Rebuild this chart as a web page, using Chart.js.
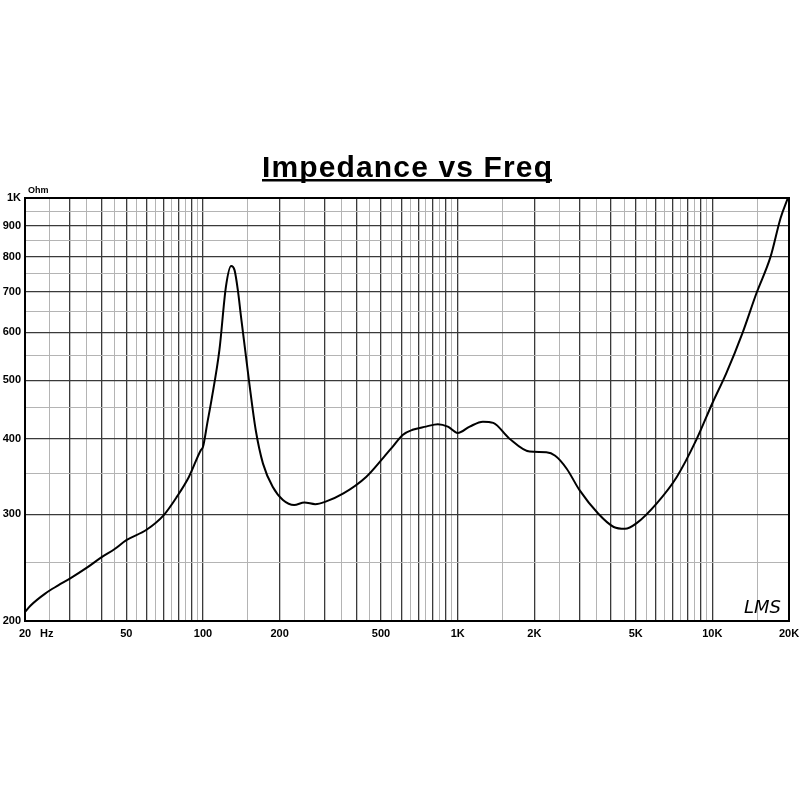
<!DOCTYPE html>
<html>
<head>
<meta charset="utf-8">
<title>Impedance vs Freq</title>
<script src="https://cdn.jsdelivr.net/npm/chart.js@4.4.0/dist/chart.umd.min.js"></script>
<style>
  html, body { margin: 0; padding: 0; background: #fff; }
  #wrap { width: 800px; height: 800px; }
</style>
</head>
<body>
<div id="wrap"><canvas id="chart" width="800" height="800"></canvas></div>
<script>
// frequency (Hz) and impedance (Ohm)
const freqs = [20, 21, 24, 27, 30, 35, 40, 45, 50, 60, 70, 79, 88, 98, 100, 104, 108, 116, 123, 129, 133, 137, 141,
  152, 161, 172, 188, 206, 228, 250, 276, 303, 356, 437, 507, 555, 608, 665, 751, 836, 915, 1000, 1115, 1256,
  1380, 1590, 1917, 2230, 2416, 2680, 3010, 3560, 4100, 4540, 5030, 6050, 7250, 8640, 10000, 11340, 13130,
  14900, 16930, 18540, 19800];
const ohms = [207, 212, 222, 229, 235, 245, 255, 263, 272, 283, 299, 321, 346, 383, 388, 425, 464, 561, 713, 772, 760, 705, 637,
  494, 414, 364, 333, 317, 311, 314, 312, 315, 325, 346, 371, 388, 406, 414, 419, 423, 419, 409, 419, 427,
  425, 401, 381, 380, 375, 357, 329, 301, 286, 284, 290, 313, 346, 398, 458, 513, 598,
  696, 800, 927, 1000];

// grid lines and tick labels
const xGrid = [];
for (let v = 20; v <= 100; v += 5) xGrid.push(v);
for (let v = 150; v <= 1000; v += 50) xGrid.push(v);
for (let v = 1500; v <= 10000; v += 500) xGrid.push(v);
xGrid.push(15000, 20000);
const yGrid = [];
for (let v = 200; v <= 1000; v += 50) yGrid.push(v);

const xLabels = { 20: '20', 50: '50', 100: '100', 200: '200', 500: '500', 1000: '1K', 2000: '2K', 5000: '5K', 10000: '10K', 20000: '20K' };
const yLabels = { 200: '200', 300: '300', 400: '400', 500: '500', 600: '600', 700: '700', 800: '800', 900: '900', 1000: '1K' };

// "round" values (one significant digit) get the dark lines
function isMajor(v) {
  const p = Math.pow(10, Math.floor(Math.log10(v) + 1e-9));
  return Math.abs(v / p - Math.round(v / p)) < 1e-6;
}

const labelFont = { family: "'Liberation Sans', Arial, sans-serif", size: 11, weight: 'bold' };

const extras = {
  id: 'extras',
  beforeDraw(chart) {
    const ctx = chart.ctx;
    ctx.save();
    ctx.fillStyle = '#fff';
    ctx.fillRect(0, 0, chart.width, chart.height);
    ctx.restore();
  },
  afterDraw(chart) {
    const ctx = chart.ctx;
    const a = chart.chartArea;
    ctx.save();
    // frame
    ctx.strokeStyle = '#000';
    ctx.lineWidth = 2;
    ctx.strokeRect(a.left, a.top, a.right - a.left, a.bottom - a.top);

    // title, stretched to the width of the original
    const title = 'Impedance vs Freq';
    ctx.fillStyle = '#000';
    ctx.font = "bold 30px 'Liberation Sans', Arial, sans-serif";
    const w = ctx.measureText(title).width;
    const sp = (290 - w) / (title.length - 1);
    ctx.letterSpacing = sp + 'px';
    ctx.textAlign = 'left';
    ctx.textBaseline = 'alphabetic';
    ctx.fillText(title, 262, 177);
    ctx.letterSpacing = '0px';
    ctx.fillRect(262, 179, 290, 2.5);

    // unit labels
    ctx.font = "bold 9px 'Liberation Sans', Arial, sans-serif";
    ctx.fillText('Ohm', 28, 193);
    ctx.font = "bold 11px 'Liberation Sans', Arial, sans-serif";
    ctx.textBaseline = 'top';
    ctx.fillText('Hz', 40, a.bottom + 7);

    // logo
    ctx.font = "italic 18px 'DejaVu Sans', sans-serif";
    ctx.textBaseline = 'alphabetic';
    ctx.fillText('LMS', 744, 613);
    ctx.restore();
  }
};

new Chart(document.getElementById('chart'), {
  type: 'scatter',
  data: {
    datasets: [{
      label: 'Impedance',
      data: freqs.map((f, i) => ({ x: f, y: ohms[i] })),
      showLine: true,
      borderColor: '#000',
      borderWidth: 2,
      pointRadius: 0,
      cubicInterpolationMode: 'monotone'
    }]
  },
  options: {
    responsive: false,
    animation: false,
    layout: { padding: { top: 198, right: 11, left: 0, bottom: 0 } },
    plugins: {
      legend: { display: false },
      tooltip: { enabled: false },
      title: { display: false }
    },
    scales: {
      x: {
        type: 'logarithmic',
        min: 20,
        max: 20000,
        afterBuildTicks: s => { s.ticks = xGrid.map(v => ({ value: v })); },
        afterFit: s => { s.height = 179; s.paddingLeft = 0; s.paddingRight = 0; },
        border: { color: '#000', width: 2 },
        grid: {
          drawTicks: false,
          color: c => isMajor(c.tick.value) ? '#3a3a3a' : '#b4b4b4',
          lineWidth: c => isMajor(c.tick.value) ? 1.3 : 1
        },
        ticks: {
          autoSkip: false,
          maxRotation: 0,
          padding: 6,
          color: '#000',
          font: labelFont,
          callback: v => xLabels[v] || ''
        }
      },
      y: {
        type: 'logarithmic',
        min: 200,
        max: 1000,
        afterBuildTicks: s => { s.ticks = yGrid.map(v => ({ value: v })); },
        afterFit: s => { s.width = 25; s.paddingTop = 0; s.paddingBottom = 0; },
        border: { color: '#000', width: 2 },
        grid: {
          drawTicks: false,
          color: c => isMajor(c.tick.value) ? '#3a3a3a' : '#b4b4b4',
          lineWidth: c => isMajor(c.tick.value) ? 1.3 : 1
        },
        ticks: {
          autoSkip: false,
          padding: 4,
          color: '#000',
          font: labelFont,
          callback: v => yLabels[v] || ''
        }
      }
    }
  },
  plugins: [extras]
});
</script>
</body>
</html>
